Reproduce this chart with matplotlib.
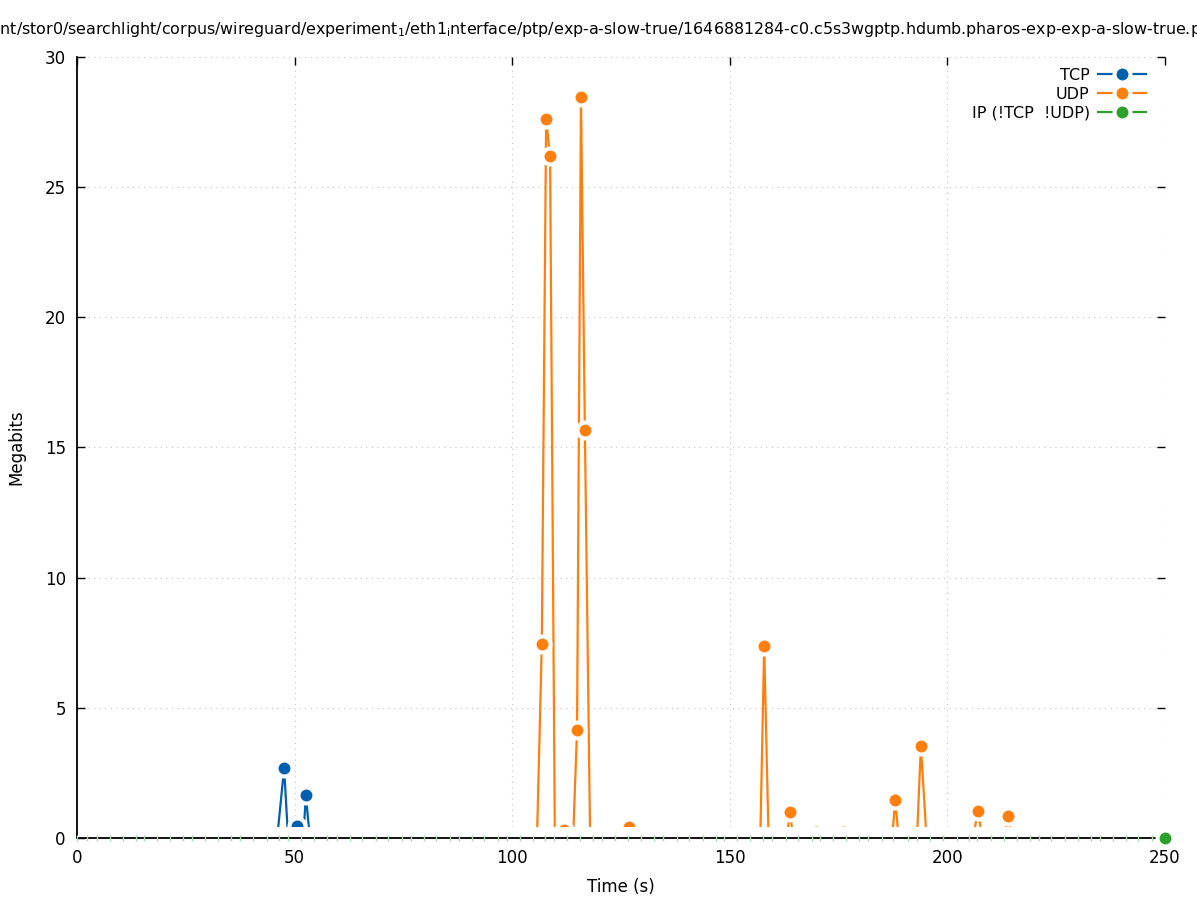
import numpy as np
import matplotlib as mpl
mpl.use('Agg')  # Headless mode
import matplotlib.pyplot as plt
from matplotlib.lines import Line2D

plt.rcParams['font.family'] = 'DejaVu Sans'
plt.rcParams['font.size'] = 12
plt.rcParams['mathtext.default'] = 'regular'

title = ('/mnt/stor0/searchlight/corpus/wireguard/experiment$_1$/eth1$_i$nterface/ptp/'
         'exp-a-slow-true/1646881284-c0.c5s3wgptp.hdumb.pharos-exp-exp-a-slow-true.pcap')

# TCP throughput samples (time s, megabits)
tcp_t = [0.0, 46.0, 47.6, 48.5, 50.5, 52.0, 52.6, 53.5, 250.0]
tcp_mb = [0, 0, 2.69, 0, 0.45, 0, 1.65, 0, 0]

# UDP throughput samples
udp_t = [0.0, 105.7, 106.8, 107.8, 108.7, 109.8, 111.9, 114.0, 114.9, 115.8, 116.7, 117.9,
         125.8, 126.8, 127.8, 157.0, 157.9, 158.9, 163.1, 163.8, 164.6, 169.0, 169.9, 170.8,
         175.2, 176.1, 177.0, 187.3, 188.0, 188.8, 193.0, 193.9, 195.2, 205.9, 207.0, 208.0,
         213.2, 213.9, 214.8, 250.0]
udp_mb = [0, 0, 7.45, 27.6, 26.2, 0, 0.3, 0, 4.15, 28.47, 15.67, 0,
          0, 0.42, 0, 0, 7.38, 0, 0, 1.0, 0, 0, 0.22, 0,
          0, 0.22, 0, 0, 1.46, 0, 0, 3.53, 0, 0, 1.04, 0,
          0, 0.85, 0, 0]

# IP (non TCP/UDP) samples - all zero
ip_t = [0.0, 2.2, 4.5, 7.6, 10.5, 13.5, 15.4, 18.4, 21.4, 24.4, 26.4, 29.4, 32.5, 35.5, 37.5,
        40.5, 43.6, 46.5, 48.6, 51.5, 54.4, 57.5, 59.7, 62.7, 65.4, 68.6, 71.5, 74.6, 76.7,
        79.7, 82.6, 85.7, 87.8, 90.7, 93.6, 96.7, 98.9, 101.8, 104.7, 107.5, 109.7, 112.7,
        115.6, 118.6, 120.7, 123.6, 126.7, 129.7, 132.6, 134.7, 137.8, 140.7, 143.8, 146.8,
        148.7, 151.7, 154.6, 157.7, 159.7, 162.8, 165.7, 168.8, 170.7, 173.8, 176.8, 179.7,
        181.8, 184.9, 187.6, 190.9, 192.9, 196.0, 199.0, 202.1, 204.9, 206.9, 209.9, 213.0,
        215.9, 218.9, 221.0, 223.9, 227.0, 229.9, 233.0, 235.0, 238.1, 241.0, 243.8, 246.9,
        250.0]
ip_mb = [0] * len(ip_t)

labels = ['TCP', 'UDP', 'IP (!TCP  !UDP)']
c_tcp = '#0060ad'
c_udp = '#ff7f0e'
c_ip = '#2ca02c'

fig = plt.figure(figsize=(11.97, 9), dpi=100)
ax = fig.add_axes([0.0643, 0.0689, 0.909, 0.8678])

style = dict(lw=1.6, marker='o', ms=11.5, mew=2.9, mec='white')
ax.plot(tcp_t, tcp_mb, color=c_tcp, markevery=[v > 0 for v in tcp_mb], zorder=2, **style)
ax.plot(udp_t, udp_mb, color=c_udp, markevery=[v > 0 for v in udp_mb], zorder=2, **style)
ax.plot(ip_t, ip_mb, color=c_ip, lw=1.6, zorder=2)

# white strip just above zero hides the zero-level points (like gnuplot's point gaps)
ax.axhspan(0, 0.42, color='white', zorder=2.5, lw=0)
ax.plot(ip_t[:-1], ip_mb[:-1], ls='none', marker='|', ms=5, mew=1,
        color='#add8ad', zorder=3.5, clip_on=False)
# last IP sample sits on the corner
ax.plot(ip_t[-1:], ip_mb[-1:], ls='none', color=c_ip, zorder=5, clip_on=False,
        marker='o', ms=11.5, mew=2.9, mec='white')

ax.set_xlim(0, 250)
ax.set_ylim(0, 30)
ax.set_xticks(np.arange(0, 251, 50))
ax.set_yticks(np.arange(0, 31, 5))
ax.tick_params(direction='in', top=True, right=True, length=6, width=1, pad=8)
ax.grid(True, ls=(0, (1, 4)), color='#c4c4c4', lw=0.8)
ax.spines['top'].set_visible(False)
ax.spines['right'].set_visible(False)
for s in ('left', 'bottom'):
    ax.spines[s].set_linewidth(1.3)
    ax.spines[s].set_zorder(3)

ax.set_xlabel('Time (s)', labelpad=8)
ax.set_ylabel('Megabits', labelpad=14)

handles = [Line2D([], [], color=c, **style) for c in (c_tcp, c_udp, c_ip)]
leg = ax.legend(handles, labels, loc='upper right', bbox_to_anchor=(0.988, 0.994),
                borderaxespad=0, markerfirst=False, fancybox=False, fontsize=11.5,
                framealpha=1, edgecolor='white', facecolor='white', handlelength=3.0,
                labelspacing=0.24, handletextpad=0.5)
leg.set_zorder(5)

fig.text(0.5046, 0.967, title, ha='center', va='center', fontsize=11.4)

plt.savefig('out.png')
